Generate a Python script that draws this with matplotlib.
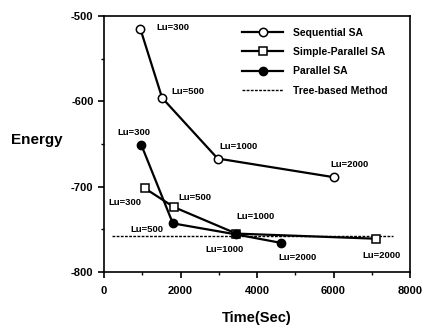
import matplotlib
matplotlib.use("Agg")
import matplotlib.pyplot as plt
from matplotlib.ticker import MultipleLocator

plt.rcParams['font.family'] = ['Liberation Sans', 'DejaVu Sans']
plt.rcParams['font.weight'] = 'bold'
plt.rcParams['axes.unicode_minus'] = False

lu_labels = ["Lu=300", "Lu=500", "Lu=1000", "Lu=2000"]

seq_time = [950, 1520, 2970, 6020]
seq_energy = [-515, -596, -667, -689]

simple_time = [1070, 1830, 3460, 7120]
simple_energy = [-702, -724, -755, -761]

par_time = [975, 1800, 3460, 4640]
par_energy = [-651, -743, -756, -766]

tree_time = [220, 7560]
tree_energy = [-758, -758]

fig = plt.figure(figsize=(4.25, 3.31), dpi=100)
ax = fig.add_axes([104/425, 1-272/331, 306/425, 256/331])

ax.plot(seq_time, seq_energy, '-o', color='black', lw=1.6, ms=6,
        mfc='white', mec='black', mew=1.1, label='Sequential SA', zorder=3)
ax.plot(simple_time, simple_energy, '-s', color='black', lw=1.6, ms=6,
        mfc='white', mec='black', mew=1.1, label='Simple-Parallel SA', zorder=3)
ax.plot(par_time, par_energy, '-o', color='black', lw=1.6, ms=6,
        mfc='black', mec='black', label='Parallel SA', zorder=4)
ax.plot(tree_time, tree_energy, color='black', lw=1.0, ls=(0, (2, 1)),
        label='Tree-based Method', zorder=2)

fs = 6.8
def lab(x, y, t, dx, dy, ha='left'):
    ax.annotate(t, (x, y), xytext=(dx, dy), textcoords='offset pixels',
                ha=ha, va='center', fontsize=fs, fontweight='bold')

seq_off = [(16, 1), (9, 6), (2, 12), (-4, 13)]
for i in range(4):
    lab(seq_time[i], seq_energy[i], lu_labels[i], *seq_off[i])

simple_off = [(-37, -14), (4, 10), (0, 17), (-14, -17)]
for i in range(4):
    lab(simple_time[i], simple_energy[i], lu_labels[i], *simple_off[i])

par_off = [(-7, 12, 'center'), (-9, -6, 'right'), (-31, -15, 'left'), (-3, -15, 'left')]
for i in range(4):
    dx, dy, ha = par_off[i]
    lab(par_time[i], par_energy[i], lu_labels[i], dx, dy, ha)

ax.set_xlim(0, 8000)
ax.set_ylim(-800, -500)
ax.xaxis.set_major_locator(MultipleLocator(2000))
ax.xaxis.set_minor_locator(MultipleLocator(1000))
ax.yaxis.set_major_locator(MultipleLocator(100))
ax.yaxis.set_minor_locator(MultipleLocator(50))
ax.tick_params(axis='both', which='major', direction='out', length=4, width=1.2,
               labelsize=8)
ax.tick_params(axis='x', which='major', pad=6)
ax.tick_params(axis='both', which='minor', direction='out', length=2, width=1.0)
for lbl in ax.get_xticklabels() + ax.get_yticklabels():
    lbl.set_fontweight('bold')
for s in ax.spines.values():
    s.set_linewidth(1.2)

ax.set_xlabel('Time(Sec)', fontsize=10.5, fontweight='bold', labelpad=11)
ax.set_ylabel('Energy', fontsize=11, fontweight='bold', rotation=0, labelpad=0)
ax.yaxis.set_label_coords(-0.22, 0.49)
ax.yaxis.label.set_ha('center')

leg = ax.legend(loc='upper left', bbox_to_anchor=(0.452, 0.955), frameon=False,
                fontsize=7.5, handlelength=3.9, handletextpad=1.0,
                labelspacing=0.9, borderaxespad=0.0, borderpad=0.0)
for t in leg.get_texts():
    t.set_fontweight('bold')

fig.savefig('out.png', dpi=100)
